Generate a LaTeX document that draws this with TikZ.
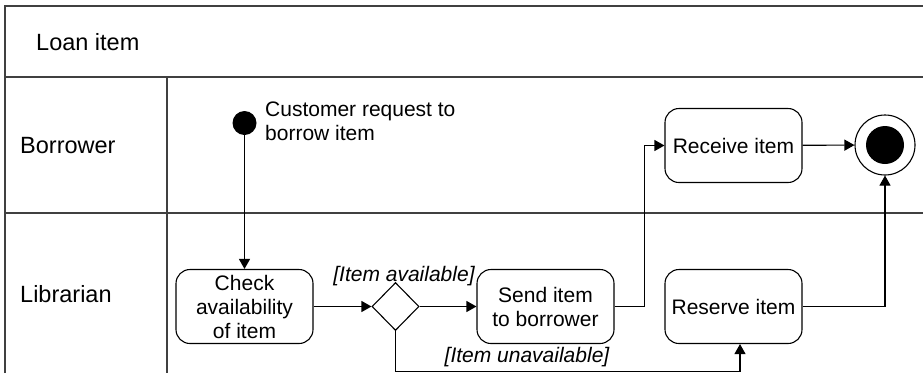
\documentclass[tikz,border=0pt]{standalone}
\usepackage{fontspec}
\setmainfont{Liberation Sans}
\usetikzlibrary{positioning,arrows.meta,shapes.geometric}

\begin{document}
\begin{tikzpicture}[
  x=1pt, y=-1pt,
  lane/.style={line width=1.4pt, black!75},
  lanename/.style={font=\fontsize{23.5}{28}\selectfont, anchor=base west, inner sep=0pt},
  activity/.style={draw, line width=1.1pt, rounded corners=14pt, minimum width=137pt,
    minimum height=74pt, align=center, inner sep=2pt, font=\fontsize{21}{24}\selectfont},
  decision/.style={diamond, draw, line width=1.1pt, minimum width=47pt, minimum height=48pt, inner sep=0pt},
  initial/.style={circle, fill=black, minimum size=24pt, inner sep=0pt},
  final/.style={circle, draw, line width=1.1pt, fill=white, minimum size=60pt, inner sep=0pt},
  guard/.style={font=\fontsize{21}{24}\selectfont\itshape, anchor=base, inner sep=0pt},
  note/.style={font=\fontsize{21}{24}\selectfont, align=left, inner sep=0pt},
  flow/.style={line width=1.1pt, -{Triangle[length=10pt,width=11pt]}}
]
\useasboundingbox (0,0) rectangle (923,373);
% swimlane frame
\draw[lane] (5,373) -- (5,6) -- (923,6);
\draw[lane] (5,77) -- (923,77);
\draw[lane] (5,213) -- (923,213);
\draw[lane] (167,77) -- (167,373);
\node[lanename] (title) at (36,50) {Loan item};
\node[lanename] (borrower) at (20,153) {Borrower};
\node[lanename] (librarian) at (20,302) {Librarian};
% Borrower lane
\node[initial] (start) at (244.5,123) {};
\node[note, anchor=north west] (startnote) at (265,102) {Customer request to\\borrow item};
\node[activity] (receive) at (733.5,145.5) {Receive item};
\node[final] (end) at (885,145) {};
\node[circle, fill=black, minimum size=38pt, inner sep=0pt] (endcore) at (end) {};
% Librarian lane
\node[activity] (check) at (244.5,306.5) {Check\\availability\\of item};
\node[decision] (decide) at (395.5,306.5) {};
\node[activity] (send) at (545.5,306.5) {Send item\\to borrower};
\node[activity] (reserve) at (733.5,306.5) {Reserve item};
\node[guard] (availlabel) at (404,281) {[Item available]};
\node[guard] (unavaillabel) at (527,362) {[Item unavailable]};
% control flow
\draw[flow] (start) -- (check);
\draw[flow] (check) -- (decide);
\draw[flow] (decide) -- (send);
\draw[flow] (send.east) -- ++(30,0) |- (receive.west);
\draw[flow] (receive) -- (end);
\draw[flow] (reserve.east) -| (end.south);
\draw[flow] (decide.south) -- ++(0,40) -| ([xshift=6.5pt]reserve.south);
\end{tikzpicture}
\end{document}
